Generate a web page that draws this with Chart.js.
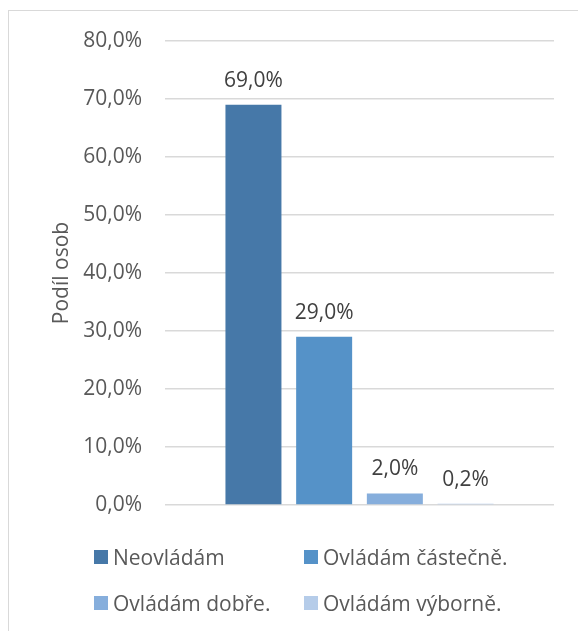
<!DOCTYPE html>
<html>
<head>
<meta charset="utf-8">
<script src="https://cdn.jsdelivr.net/npm/chart.js@4/dist/chart.umd.min.js"></script>
<style>
    html, body { margin: 0; padding: 0; background: #fff; overflow: hidden; }
    #frame { position: absolute; left: 8px; top: 10px; width: 640px; height: 700px; border: 1px solid #d9d9d9; }
    #wrap { position: absolute; left: 0; top: 0; width: 578px; height: 631px; }
    #legend { position: absolute; left: 94px; top: 542px; display: grid; grid-template-columns: 210px 210px; row-gap: 16px;
        font-family: "Open Sans", sans-serif; font-size: 21px; color: #595959; }
    #legend .item { display: flex; align-items: center; height: 30px; white-space: nowrap; }
    #legend .box { width: 14px; height: 14px; margin-right: 5px; flex: none; }
</style>
</head>
<body>
<div id="frame"></div>
<div id="wrap"><canvas id="chart" width="578" height="631"></canvas></div>
<div id="legend"></div>
<script>
// data
const categories = [''];
const seriesNames = ['Neovládám', 'Ovládám částečně.', 'Ovládám dobře.', 'Ovládám výborně.'];
const seriesValues = [69.0, 29.0, 2.0, 0.2];
const seriesColors = ['#4678a8', '#5592c8', '#86aedc', '#b5cce9'];
const yTicks = [0, 10, 20, 30, 40, 50, 60, 70, 80];

function fmt(v) {
    return v.toFixed(1).replace('.', ',') + '%';
}

// popisky hodnot nad sloupci
const valueLabels = {
    id: 'valueLabels',
    afterDatasetsDraw(chart) {
        const ctx = chart.ctx;
        ctx.save();
        ctx.font = '21px "Open Sans"';
        ctx.fillStyle = '#404040';
        ctx.textAlign = 'center';
        ctx.textBaseline = 'alphabetic';
        chart.data.datasets.forEach(function(ds, i) {
            chart.getDatasetMeta(i).data.forEach(function(bar, j) {
                ctx.fillText(fmt(ds.data[j]), bar.x, bar.y - 18);
            });
        });
        ctx.restore();
    }
};

const chart = new Chart(document.getElementById('chart'), {
    type: 'bar',
    data: {
        labels: categories,
        datasets: seriesNames.map(function(name, i) {
            return {
                label: name,
                data: [seriesValues[i]],
                backgroundColor: seriesColors[i],
                categoryPercentage: 0.727,
                barPercentage: 0.792
            };
        })
    },
    options: {
        responsive: false,
        animation: false,
        devicePixelRatio: 1,
        layout: { padding: { top: 41, bottom: 126, left: 49, right: 24 } },
        plugins: {
            legend: { display: false },
            tooltip: { enabled: false }
        },
        scales: {
            x: { display: false },
            y: {
                min: 0,
                max: 80,
                afterBuildTicks(axis) {
                    axis.ticks = yTicks.map(function(v) { return { value: v }; });
                },
                afterFit(axis) { axis.width = 116; },
                border: { display: false },
                grid: { color: '#d9d9d9', lineWidth: 1.5, drawTicks: false },
                ticks: {
                    padding: 23,
                    color: '#595959',
                    font: { family: 'Open Sans', size: 21 },
                    callback: function(v) { return fmt(v); }
                },
                title: {
                    display: true,
                    text: 'Podíl osob',
                    color: '#595959',
                    font: { family: 'Open Sans', size: 21 },
                    padding: 0
                }
            }
        }
    },
    plugins: [valueLabels]
});

// legenda
const legend = document.getElementById('legend');
seriesNames.forEach(function(name, i) {
    const item = document.createElement('div');
    item.className = 'item';
    const box = document.createElement('span');
    box.className = 'box';
    box.style.background = seriesColors[i];
    item.appendChild(box);
    item.appendChild(document.createTextNode(name));
    legend.appendChild(item);
});
</script>
</body>
</html>
